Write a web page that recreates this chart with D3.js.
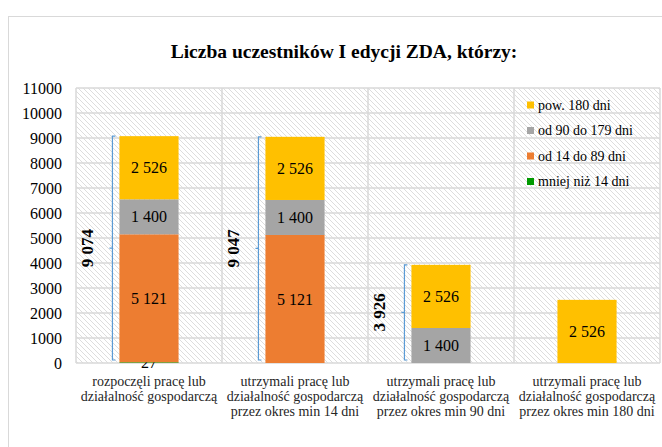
<!DOCTYPE html>
<html>
<head>
<meta charset="utf-8">
<script src="https://cdn.jsdelivr.net/npm/d3@7"></script>
<style>
  body { margin: 0; background: #fff; }
  svg, svg text, svg tspan { font-family: "Liberation Serif", "DejaVu Serif", serif !important; }
</style>
</head>
<body>
<svg id="chart"></svg>
<script>
const width = 662, height = 447;
const serif = '"Liberation Serif", "DejaVu Serif", serif';

// data
const categories = [
    ["rozpoczęli pracę lub", "działalność gospodarczą"],
    ["utrzymali pracę lub", "działalność gospodarczą", "przez okres min 14 dni"],
    ["utrzymali pracę lub", "działalność gospodarczą", "przez okres min 90 dni"],
    ["utrzymali pracę lub", "działalność gospodarczą", "przez okres min 180 dni"]
];
const seriesNames = ["mniej niż 14 dni", "od 14 do 89 dni", "od 90 do 179 dni", "pow. 180 dni"];
const below14 = [27, 0, 0, 0];
const from14to89 = [5121, 5121, 0, 0];
const from90to179 = [1400, 1400, 1400, 0];
const over180 = [2526, 2526, 2526, 2526];
const bracketTotals = [9074, 9047, 3926];
const yTicks = [0, 1000, 2000, 3000, 4000, 5000, 6000, 7000, 8000, 9000, 10000, 11000];
const colors = ["#009a00", "#ed7d31", "#a5a5a5", "#ffc000"];
const titleText = "Liczba uczestników I edycji ZDA, którzy:";

const seriesValues = [below14, from14to89, from90to179, over180];
const rows = categories.map((c, i) => {
    const r = { idx: i };
    seriesNames.forEach((s, j) => r[s] = seriesValues[j][i]);
    return r;
});
const stacked = d3.stack().keys(seriesNames)(rows);

const fmt = d3.formatLocale({ decimal: ",", thousands: " ", grouping: [3], currency: ["", ""] }).format(",d");

const margin = { left: 76, right: 2, top: 88, bottom: 84 };

let svg = d3.select("#chart")
    .attr("width", width)
    .attr("height", height)
    .attr("font-family", serif);

// hatch background
const defs = svg.append("defs");
const pat = defs.append("pattern")
    .attr("id", "hatch")
    .attr("patternUnits", "userSpaceOnUse")
    .attr("width", 5).attr("height", 5);
pat.append("rect").attr("width", 5).attr("height", 5).attr("fill", "#fff");
pat.append("path")
    .attr("d", "M-1,-1 L6,6 M-1,4 L1,6 M4,-1 L6,1")
    .attr("stroke", "#d4d4d4").attr("stroke-width", 0.8);

// outer frame
svg.append("rect")
    .attr("x", 8.5).attr("y", 16.5)
    .attr("width", 700).attr("height", 500)
    .attr("fill", "#fff").attr("stroke", "#d9d9d9");

const x = d3.scaleBand()
    .domain(categories.map((c, i) => i))
    .range([margin.left, width - margin.right])
    .paddingInner(0).paddingOuter(0);

const y = d3.scaleLinear()
    .domain([0, 11000])
    .range([height - margin.bottom, margin.top]);

const barW = x.bandwidth() * 0.405;

// plot background
svg.append("rect")
    .attr("x", x.range()[0]).attr("y", y(11000))
    .attr("width", x.range()[1] - x.range()[0])
    .attr("height", y(0) - y(11000))
    .attr("fill", "url(#hatch)");

// gridlines
svg.append("g")
    .selectAll("line")
    .data(yTicks)
    .join("line")
    .attr("x1", x.range()[0]).attr("x2", x.range()[1])
    .attr("y1", d => y(d)).attr("y2", d => y(d))
    .attr("stroke", "#d9d9d9").attr("stroke-width", 1.5);

svg.append("g")
    .selectAll("line")
    .data(d3.range(categories.length + 1))
    .join("line")
    .attr("x1", d => x.range()[0] + d * x.step())
    .attr("x2", d => x.range()[0] + d * x.step())
    .attr("y1", y(0)).attr("y2", y(11000))
    .attr("stroke", "#d9d9d9").attr("stroke-width", 1.5);

// y axis labels
const yAxis = d3.axisLeft(y).tickValues(yTicks).tickSize(0).tickPadding(14).tickFormat(d3.format("d"));
const yg = svg.append("g")
    .attr("transform", `translate(${x.range()[0]},0)`)
    .call(yAxis)
    .attr("font-family", serif)
    .attr("font-size", 16);
yg.select(".domain").remove();
yg.selectAll("text").attr("fill", "#000");

// bars
const layer = svg.append("g")
    .selectAll("g")
    .data(stacked)
    .join("g")
    .attr("fill", (d, i) => colors[i]);

layer.selectAll("rect")
    .data(d => d.filter(p => p[1] - p[0] > 0))
    .join("rect")
    .attr("x", p => x(p.data.idx) + (x.bandwidth() - barW) / 2)
    .attr("y", p => y(p[1]))
    .attr("width", barW)
    .attr("height", p => y(p[0]) - y(p[1]));

// data labels
layer.selectAll("text")
    .data(d => d.filter(p => p[1] - p[0] > 0))
    .join("text")
    .attr("x", p => x(p.data.idx) + x.bandwidth() / 2)
    .attr("y", p => (y(p[0]) + y(p[1])) / 2)
    .attr("dy", "0.35em")
    .attr("text-anchor", "middle")
    .attr("font-size", 16)
    .attr("fill", "#000")
    .text(p => fmt(p[1] - p[0]));

// brackets for totals
const br = svg.append("g")
    .selectAll("g")
    .data(bracketTotals)
    .join("g");

br.append("path")
    .attr("d", (d, i) => {
        const bx = x(i) + (x.bandwidth() - barW) / 2 - 7;
        const y0 = y(0) - 3, y1 = y(d), ym = (y0 + y1) / 2;
        return `M${bx + 3},${y0}H${bx}V${y1}H${bx + 3}M${bx},${ym}H${bx - 3}`;
    })
    .attr("fill", "none")
    .attr("stroke", "#5b9bd5")
    .attr("stroke-width", 1.2);

br.append("text")
    .attr("transform", (d, i) => {
        const bx = x(i) + (x.bandwidth() - barW) / 2 - 7;
        const ym = (y(0) - 3 + y(d)) / 2;
        return `translate(${bx - 25},${ym}) rotate(-90)`;
    })
    .attr("text-anchor", "middle")
    .attr("dy", "0.35em")
    .attr("font-size", 17)
    .attr("font-weight", "bold")
    .text(d => fmt(d));

// x labels
const xl = svg.append("g")
    .selectAll("text")
    .data(categories)
    .join("text")
    .attr("x", (d, i) => x(i) + x.bandwidth() / 2)
    .attr("y", y(0) + 23)
    .attr("text-anchor", "middle")
    .attr("font-size", 14)
    .attr("fill", "#262626");

xl.selectAll("tspan")
    .data(d => d)
    .join("tspan")
    .attr("x", function () { return this.parentNode.getAttribute("x"); })
    .attr("dy", (d, i) => i === 0 ? 0 : 15)
    .text(d => d);

// legend
const legendOrder = [3, 2, 1, 0];
const lg = svg.append("g")
    .selectAll("g")
    .data(legendOrder)
    .join("g")
    .attr("transform", (d, i) => `translate(527,${105 + i * 25.5})`);

lg.append("rect")
    .attr("x", 0).attr("y", -3.5)
    .attr("width", 7).attr("height", 7)
    .attr("fill", d => colors[d]);

lg.append("text")
    .attr("x", 11)
    .attr("dy", "0.35em")
    .attr("font-size", 14)
    .text(d => seriesNames[d]);

// title
svg.append("text")
    .attr("x", 344)
    .attr("y", 58)
    .attr("text-anchor", "middle")
    .attr("font-size", 19.5)
    .attr("font-weight", "bold")
    .text(titleText);
</script>
</body>
</html>
